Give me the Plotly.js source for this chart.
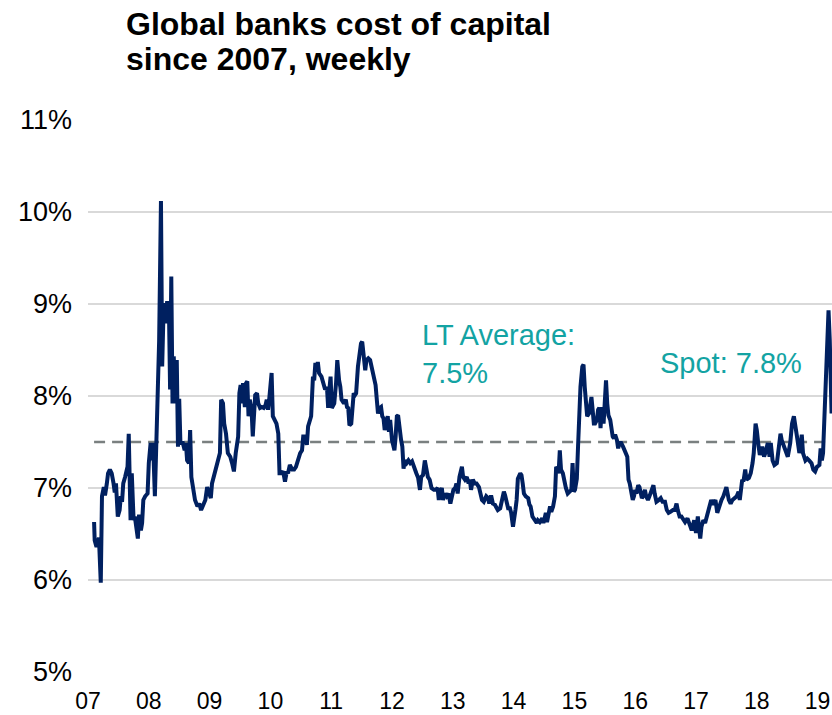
<!DOCTYPE html>
<html>
<head>
<meta charset="utf-8">
<script src="https://cdn.plot.ly/plotly-3.0.1.min.js"></script>
<style>
html,body{margin:0;padding:0;background:#fff;}
#chart{width:832px;height:715px;}
</style>
</head>
<body>
<div id="chart"></div>
<script>
const dates = [
2007.10,2007.11,2007.14,2007.18,2007.21,2007.23,2007.26,2007.28,2007.31,2007.33,2007.36,2007.39,2007.42,2007.44,2007.46,2007.47,2007.49,2007.52,2007.54,2007.56,2007.58,2007.61,2007.65,2007.67,2007.69,2007.70,2007.72,2007.75,2007.77,2007.80,2007.82,2007.84,2007.87,2007.89,2007.91,2007.94,2007.98,
2008.00,2008.03,2008.05,2008.07,2008.10,2008.12,2008.14,2008.17,2008.20,2008.22,2008.24,2008.26,2008.28,2008.30,2008.33,2008.35,2008.37,2008.39,2008.41,2008.44,2008.46,2008.48,2008.50,2008.52,2008.56,2008.59,2008.61,2008.63,2008.66,2008.68,2008.70,2008.73,2008.76,2008.80,2008.83,2008.86,2008.90,2008.93,2008.96,
2009.00,2009.02,2009.04,2009.08,2009.13,2009.17,2009.19,2009.22,2009.24,2009.27,2009.30,2009.34,2009.37,2009.40,2009.43,2009.47,2009.49,2009.51,2009.53,2009.55,2009.58,2009.60,2009.62,2009.64,2009.66,2009.69,2009.71,2009.73,2009.75,2009.78,2009.80,2009.83,2009.86,2009.89,2009.92,2009.94,2009.96,2009.98,
2010.02,2010.04,2010.07,2010.10,2010.13,2010.15,2010.18,2010.21,2010.24,2010.27,2010.29,2010.32,2010.36,2010.39,2010.42,2010.45,2010.49,2010.52,2010.54,2010.57,2010.60,2010.62,2010.65,2010.67,2010.70,2010.72,2010.74,2010.76,2010.78,2010.80,2010.84,2010.87,2010.90,2010.93,2010.95,2010.97,2010.99,
2011.01,2011.05,2011.08,2011.10,2011.13,2011.15,2011.17,2011.21,2011.24,2011.26,2011.28,2011.30,2011.33,2011.35,2011.37,2011.39,2011.41,2011.44,2011.46,2011.49,2011.51,2011.53,2011.56,2011.58,2011.61,2011.64,2011.68,2011.71,2011.73,2011.75,2011.77,2011.80,2011.82,2011.84,2011.86,2011.88,2011.91,2011.93,2011.95,2011.97,
2012.00,2012.02,2012.04,2012.06,2012.08,2012.10,2012.13,2012.15,2012.17,2012.19,2012.21,2012.24,2012.27,2012.30,2012.33,2012.37,2012.40,2012.43,2012.46,2012.48,2012.51,2012.54,2012.56,2012.59,2012.62,2012.65,2012.69,2012.72,2012.75,2012.77,2012.79,2012.82,2012.84,2012.87,2012.90,2012.93,2012.96,2012.98,
2013.01,2013.04,2013.06,2013.08,2013.11,2013.15,2013.17,2013.20,2013.23,2013.26,2013.28,2013.30,2013.33,2013.36,2013.39,2013.43,2013.45,2013.48,2013.51,2013.55,2013.58,2013.60,2013.63,2013.66,2013.69,2013.72,2013.74,2013.78,2013.81,2013.84,2013.86,2013.89,2013.91,2013.94,2013.96,2013.99,
2014.01,2014.03,2014.05,2014.07,2014.11,2014.13,2014.15,2014.17,2014.20,2014.24,2014.26,2014.28,2014.31,2014.35,2014.38,2014.40,2014.43,2014.47,2014.49,2014.51,2014.53,2014.55,2014.58,2014.60,2014.62,2014.65,2014.68,2014.70,2014.72,2014.74,2014.76,2014.78,2014.81,2014.83,2014.86,2014.89,2014.93,2014.95,2014.97,2014.99,
2015.01,2015.04,2015.06,2015.08,2015.10,2015.13,2015.15,2015.17,2015.19,2015.21,2015.24,2015.26,2015.28,2015.30,2015.32,2015.34,2015.37,2015.39,2015.41,2015.43,2015.45,2015.48,2015.50,2015.52,2015.54,2015.56,2015.59,2015.61,2015.63,2015.65,2015.67,2015.70,2015.72,2015.74,2015.77,2015.80,2015.84,2015.87,2015.89,2015.91,2015.94,2015.96,2015.98,
2016.00,2016.02,2016.05,2016.07,2016.09,2016.11,2016.13,2016.16,2016.18,2016.21,2016.24,2016.28,2016.30,2016.32,2016.35,2016.39,2016.42,2016.45,2016.49,2016.52,2016.55,2016.58,2016.62,2016.65,2016.68,2016.70,2016.73,2016.76,2016.79,2016.82,2016.86,2016.89,2016.93,2016.97,
2017.00,2017.03,2017.07,2017.09,2017.12,2017.15,2017.19,2017.22,2017.25,2017.28,2017.32,2017.35,2017.38,2017.42,2017.45,2017.48,2017.50,2017.54,2017.57,2017.60,2017.64,2017.67,2017.70,2017.72,2017.76,2017.78,2017.81,2017.83,2017.87,2017.90,2017.93,2017.95,2017.98,
2018.00,2018.03,2018.05,2018.09,2018.12,2018.15,2018.18,2018.21,2018.23,2018.26,2018.29,2018.33,2018.36,2018.39,2018.41,2018.45,2018.48,2018.51,2018.55,2018.58,2018.61,2018.64,2018.67,2018.70,2018.72,2018.74,2018.76,2018.80,2018.83,2018.86,2018.90,2018.93,2018.96,2018.99,
2019.03,2019.05,2019.07,2019.09,2019.12,2019.15,2019.18,2019.20,2019.23
];

// Global banks cost of capital, %
const costOfCapital = [
6.63,6.43,6.36,6.46,5.97,6.91,7.01,6.92,7.05,7.16,7.20,7.16,7.05,6.95,7.05,6.80,6.69,6.76,6.91,6.85,7.05,7.12,7.23,7.59,7.16,6.65,7.16,6.65,6.69,6.58,6.45,6.71,6.54,6.62,6.87,6.91,6.94,
7.27,7.49,7.30,7.49,6.91,7.52,7.99,8.60,10.12,8.32,8.86,9.01,8.79,9.01,9.01,8.07,9.30,7.92,8.43,7.92,8.39,7.45,7.97,7.49,7.49,7.41,7.49,7.30,7.27,7.63,7.12,6.98,6.87,6.80,6.83,6.76,6.83,6.87,7.01,
6.91,6.89,7.05,7.14,7.27,7.38,7.96,7.92,7.70,7.59,7.38,7.34,7.27,7.18,7.38,7.56,8.03,8.12,7.92,8.14,7.88,8.14,8.16,7.78,7.96,7.85,7.56,7.88,8.01,8.03,7.92,7.87,7.88,7.87,7.90,7.96,7.85,7.96,
8.25,7.78,7.74,7.70,7.59,7.16,7.16,7.18,7.07,7.18,7.16,7.25,7.20,7.20,7.23,7.30,7.38,7.41,7.56,7.56,7.47,7.67,7.72,7.78,8.21,8.17,8.36,8.28,8.37,8.25,8.21,8.14,8.07,8.10,7.87,8.07,8.21,
7.87,7.92,8.14,8.39,8.17,8.10,7.96,7.92,7.96,7.88,7.87,7.68,7.70,7.88,8.03,8.01,8.03,8.32,8.46,8.57,8.59,8.46,8.28,8.39,8.41,8.39,8.25,8.14,8.12,7.96,7.81,7.87,7.88,7.78,7.76,7.63,7.74,7.78,7.61,7.74,
7.52,7.43,7.41,7.56,7.78,7.79,7.59,7.52,7.45,7.21,7.30,7.27,7.30,7.27,7.29,7.23,7.16,7.11,6.98,7.12,7.14,7.30,7.20,7.12,7.09,7.00,6.98,6.98,7.00,6.87,6.94,7.00,6.87,6.94,6.91,6.94,6.83,6.91,
6.98,7.00,7.05,6.94,7.12,7.23,7.12,7.09,7.12,7.05,7.09,6.98,7.09,7.05,7.05,7.01,6.94,6.87,6.85,6.91,6.89,6.83,6.92,6.83,6.82,6.78,6.76,6.78,6.87,6.96,6.92,6.80,6.78,6.78,6.73,6.58,
6.65,6.76,6.87,7.10,7.16,7.14,7.05,6.94,6.91,6.89,6.82,6.80,6.69,6.65,6.62,6.65,6.63,6.67,6.62,6.67,6.73,6.63,6.74,6.80,6.74,6.80,6.91,7.23,7.21,7.16,7.41,7.20,7.16,7.09,7.00,6.94,6.96,6.98,7.27,6.96,
6.98,7.10,7.45,7.96,8.10,8.32,8.34,8.10,7.88,7.78,7.81,7.96,7.99,7.85,7.70,7.70,7.74,7.85,7.87,7.65,7.88,7.70,7.88,8.17,7.92,7.79,7.74,7.59,7.56,7.54,7.58,7.52,7.43,7.49,7.49,7.45,7.40,7.34,7.09,7.05,6.94,6.87,6.91,
6.98,6.94,7.03,7.01,6.94,6.89,6.91,6.98,6.91,6.87,6.92,6.98,7.03,6.94,6.85,6.87,6.89,6.85,6.85,6.76,6.73,6.74,6.76,6.76,6.83,6.76,6.69,6.69,6.65,6.63,6.67,6.62,6.54,6.65,
6.51,6.69,6.45,6.58,6.65,6.62,6.73,6.83,6.87,6.82,6.87,6.73,6.80,6.87,6.91,7.00,7.01,6.87,6.83,6.87,6.89,6.91,6.96,6.87,7.09,7.07,7.20,7.09,7.11,7.16,7.27,7.38,7.70,
7.63,7.45,7.36,7.45,7.34,7.40,7.49,7.34,7.49,7.30,7.25,7.27,7.41,7.59,7.52,7.45,7.38,7.34,7.49,7.70,7.78,7.67,7.52,7.38,7.45,7.58,7.38,7.30,7.32,7.30,7.27,7.20,7.18,7.23,
7.25,7.43,7.30,7.38,7.96,8.61,8.93,8.61,7.81
];

const ltAverage = 7.5;   // long-term average, %
const spotValue = 7.8;   // latest reading, %

const titleLine1 = 'Global banks cost of capital';
const titleLine2 = 'since 2007, weekly';

const yearTicks  = [2007,2008,2009,2010,2011,2012,2013,2014,2015,2016,2017,2018,2019];
const yearLabels = ['07','08','09','10','11','12','13','14','15','16','17','18','19'];
const pctTicks   = [5,6,7,8,9,10,11];
const pctLabels  = ['5%','6%','7%','8%','9%','10%','11%'];

const FONT = 'Liberation Sans, Arial, Helvetica, sans-serif';
const TEAL = '#13a3a3';

const traces = [
  {
    x: [dates[0], dates[dates.length-1]],
    y: [ltAverage, ltAverage],
    type: 'scatter', mode: 'lines',
    line: {color: '#7a8080', width: 2.5, dash: '11px,7px'},
    hoverinfo: 'skip', showlegend: false
  },
  {
    x: dates, y: costOfCapital,
    type: 'scatter', mode: 'lines',
    line: {color: '#002060', width: 4, shape: 'linear'},
    showlegend: false
  }
];

const layout = {
  width: 832, height: 715,
  paper_bgcolor: '#ffffff', plot_bgcolor: '#ffffff',
  margin: {l: 88, r: 0, t: 120, b: 43, pad: 0},
  font: {family: FONT, color: '#000000'},
  title: {
    text: '<b>' + titleLine1 + '</b>',
    font: {family: FONT, size: 32, color: '#000000'},
    xref: 'container', x: 126/832, xanchor: 'left',
    yref: 'container', y: 1 - 24/715, yanchor: 'middle'
  },
  xaxis: {
    range: [2007, 2019.237],
    tickmode: 'array', tickvals: yearTicks, ticktext: yearLabels,
    showgrid: false, zeroline: false, showline: false, ticks: '',
    tickfont: {family: FONT, size: 23, color: '#000000'},
    ticklabelstandoff: 13
  },
  yaxis: {
    range: [5, 11],
    tickmode: 'array', tickvals: pctTicks, ticktext: pctLabels,
    showgrid: true, gridcolor: '#d9d9d9', gridwidth: 1.5,
    zeroline: false, showline: false, ticks: '',
    tickfont: {family: FONT, size: 27, color: '#000000'},
    ticklabelstandoff: 15
  },
  annotations: [
    {
      xref: 'paper', yref: 'paper',
      x: (126 - 88) / 744, y: 1 + (120 - 59) / 552,
      xanchor: 'left', yanchor: 'middle', align: 'left',
      xshift: -1, borderpad: 0,
      text: '<b>' + titleLine2 + '</b>',
      showarrow: false,
      font: {family: FONT, size: 32, color: '#000000'}
    },
    {
      xref: 'x', yref: 'y', x: 2012.46, y: 8.46,
      xanchor: 'left', yanchor: 'middle', align: 'left',
      text: 'LT Average:<br>' + ltAverage.toFixed(1) + '%',
      showarrow: false,
      font: {family: FONT, size: 29, color: TEAL}
    },
    {
      xref: 'x', yref: 'y', x: 2016.37, y: 8.36,
      xanchor: 'left', yanchor: 'middle', align: 'left',
      text: 'Spot: ' + spotValue.toFixed(1) + '%',
      showarrow: false,
      font: {family: FONT, size: 29, color: TEAL}
    }
  ],
  showlegend: false,
  hovermode: false
};

Plotly.newPlot('chart', traces, layout, {displayModeBar: false, staticPlot: true});
</script>
</body>
</html>
